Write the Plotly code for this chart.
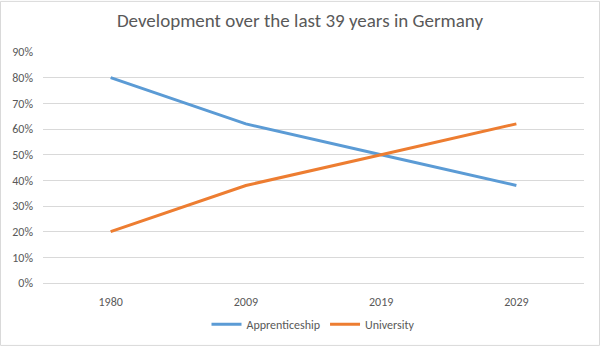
import plotly.graph_objects as go

years = ["1980", "2009", "2019", "2029"]
apprenticeship = [0.80, 0.62, 0.50, 0.38]
university = [0.20, 0.38, 0.50, 0.62]
title_text = "Development over the last 39 years in Germany"

W, H = 600, 351
ml, mr, mt, mb = 43, 16, 52, 64
pw, ph = W - ml - mr, H - mt - mb
font_family = "Carlito, Calibri, Lato, 'Open Sans', sans-serif"
grey = "#595959"

fig = go.Figure()
fig.add_trace(go.Scatter(x=years, y=apprenticeship, mode="lines", name="Apprenticeship",
                         line=dict(color="#5B9BD5", width=3)))
fig.add_trace(go.Scatter(x=years, y=university, mode="lines", name="University",
                         line=dict(color="#ED7D31", width=3)))

fig.update_layout(
    width=W, height=H,
    margin=dict(l=ml, r=mr, t=mt, b=mb),
    paper_bgcolor="white", plot_bgcolor="white",
    font=dict(family=font_family, color=grey, size=12),
    title=dict(text=title_text, x=0.5, xanchor="center", y=1 - 20 / H, yanchor="middle",
               font=dict(size=19, color=grey, family=font_family)),
    xaxis=dict(type="category", range=[-0.5, 3.5], showgrid=False, showline=True,
               linecolor="#D9D9D9", linewidth=1, ticks="", tickfont=dict(size=12, color=grey),
               ticklabelstandoff=8, fixedrange=True),
    yaxis=dict(range=[0, 0.9], dtick=0.1, tickformat=".0%", showgrid=True, gridcolor="#D9D9D9",
               gridwidth=1, zeroline=False, showline=False, ticks="",
               ticklabelstandoff=9, tickfont=dict(size=12, color=grey), fixedrange=True),
    legend=dict(orientation="h", x=0.5, xanchor="center", y=-(329 - mt - ph) / ph, yanchor="middle",
                font=dict(size=12, color=grey), itemwidth=30),
    showlegend=True,
)
fig.add_shape(type="rect", xref="paper", yref="paper",
              x0=-(ml - 0.5) / pw, x1=1 + (mr - 0.5) / pw,
              y0=-(mb - 0.5) / ph, y1=1 + (mt - 0.5) / ph,
              line=dict(color="#D9D9D9", width=1), layer="below")

fig.write_html("out.html")
